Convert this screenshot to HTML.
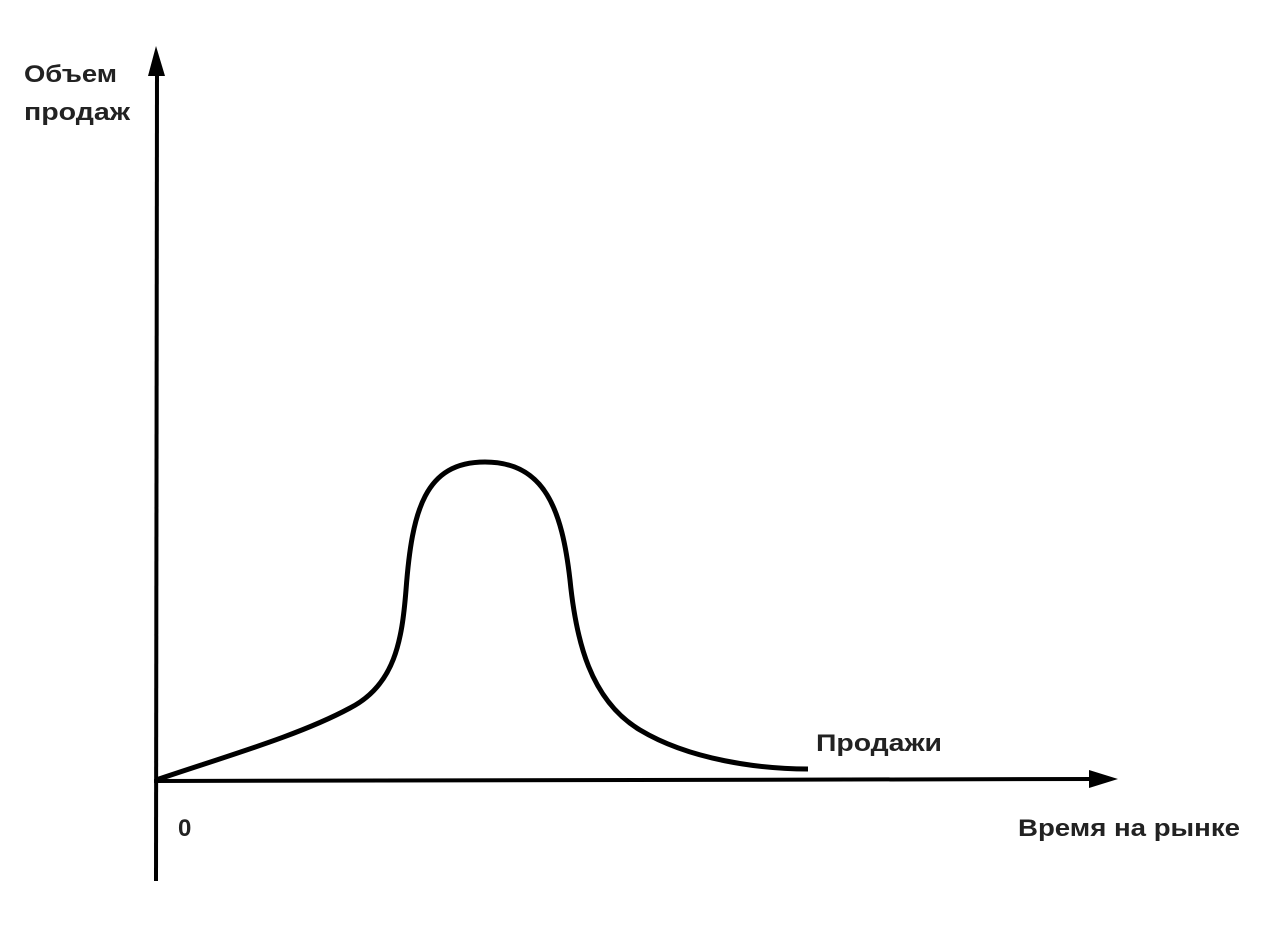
<!DOCTYPE html>
<html><head><meta charset="utf-8"><style>
html,body{margin:0;padding:0;background:#fff}
svg{display:block}
text{font-family:"Liberation Sans","DejaVu Sans",sans-serif;font-weight:bold;font-size:24px;fill:#222}
</style></head><body>
<svg width="1273" height="929" viewBox="0 0 1273 929">
<line x1="156" y1="881" x2="157" y2="70" stroke="#000" stroke-width="4"/>
<polygon points="156,46 148,76 165,76" fill="#000"/>
<line x1="154" y1="781" x2="1095" y2="779" stroke="#000" stroke-width="4"/>
<polygon points="1118,779 1089,770 1089,788" fill="#000"/>
<path d="M156,780 C230,755 300,735 350,708 C395,685 402,640 406,590 C412,510 425,462 485,462 C545,462 562,510 570,580 C576,640 590,700 640,730 C690,760 760,769 808,769" fill="none" stroke="#000" stroke-width="5"/>
<text x="24" y="82" textLength="93" lengthAdjust="spacingAndGlyphs">Объем</text>
<text x="24" y="120" textLength="106" lengthAdjust="spacingAndGlyphs">продаж</text>
<text x="178" y="836">0</text>
<text x="816" y="751" textLength="126" lengthAdjust="spacingAndGlyphs">Продажи</text>
<text x="1018" y="836" textLength="222" lengthAdjust="spacingAndGlyphs">Время на рынке</text>
</svg>
</body></html>
